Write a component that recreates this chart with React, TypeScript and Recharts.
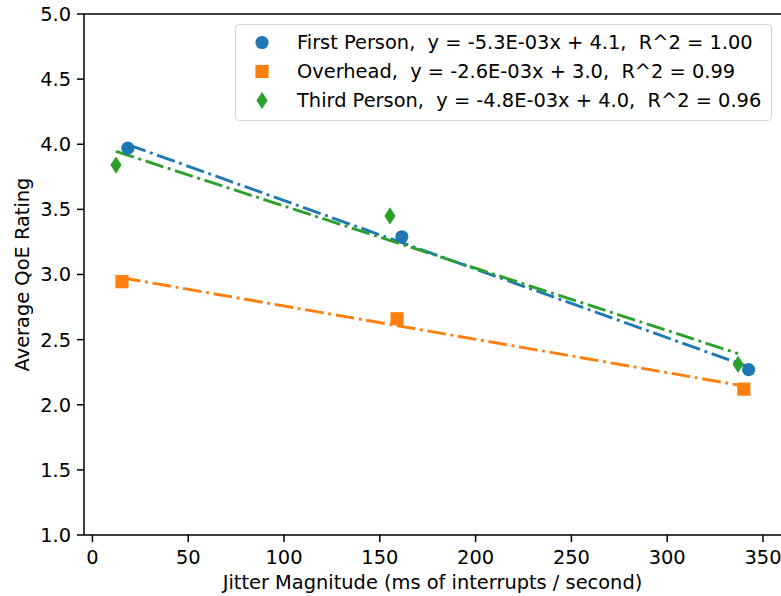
import React from 'react';
import { ComposedChart, Scatter, XAxis, YAxis, ReferenceLine, Legend } from 'recharts';

// Measured points
const firstX = [18.5, 161.5, 342.5];
const firstY = [3.97, 3.29, 2.27];
const overheadX = [15.4, 159.0, 340.0];
const overheadY = [2.945, 2.66, 2.12];
const thirdX = [12.3, 155.3, 337.0];
const thirdY = [3.84, 3.45, 2.31];

const firstFitX = [18.5, 342.5];
const firstFitY = [3.997, 2.291];
const overheadFitX = [15.4, 340.0];
const overheadFitY = [2.975, 2.144];
const thirdFitX = [12.3, 337.0];
const thirdFitY = [3.945, 2.393];

const xTicks = [0, 50, 100, 150, 200, 250, 300, 350];
const yTicks = [1.0, 1.5, 2.0, 2.5, 3.0, 3.5, 4.0, 4.5, 5.0];

const legendLabels = [
  'First Person,  y = -5.3E-03x + 4.1,  R^2 = 1.00',
  'Overhead,  y = -2.6E-03x + 3.0,  R^2 = 0.99',
  'Third Person,  y = -4.8E-03x + 4.0,  R^2 = 0.96',
];

const BLUE = '#1f77b4';
const ORANGE = '#ff7f0e';
const GREEN = '#2ca02c';
const FONT = '"DejaVu Sans", sans-serif';
const FS = 19.4;

const zip = (xs: number[], ys: number[]) => xs.map((x, i) => ({ x, y: ys[i] }));

const firstData = zip(firstX, firstY);
const overheadData = zip(overheadX, overheadY);
const thirdData = zip(thirdX, thirdY);
const firstFit = zip(firstFitX, firstFitY);
const overheadFit = zip(overheadFitX, overheadFitY);
const thirdFit = zip(thirdFitX, thirdFitY);

const DASH = '18.7 4.7 2.9 4.7';
const LW = 2.9;

const Circle = (p: any) => <circle cx={p.cx} cy={p.cy} r={6.6} fill={BLUE} />;
const Square = (p: any) => <rect x={p.cx - 6.6} y={p.cy - 6.6} width={13.2} height={13.2} fill={ORANGE} />;
const Diamond = (p: any) => (
  <polygon
    points={`${p.cx},${p.cy - 8.6} ${p.cx + 5.6},${p.cy} ${p.cx},${p.cy + 8.6} ${p.cx - 5.6},${p.cy}`}
    fill={GREEN}
  />
);
const NoShape = () => <g />;

const LegendMarker = ({ kind }: { kind: number }) => (
  <svg width={20} height={29} style={{ display: 'block' }}>
    {kind === 0 && <circle cx={10} cy={14.5} r={6.6} fill={BLUE} />}
    {kind === 1 && <rect x={3.4} y={7.9} width={13.2} height={13.2} fill={ORANGE} />}
    {kind === 2 && <polygon points="10,5.9 15.6,14.5 10,23.1 4.4,14.5" fill={GREEN} />}
  </svg>
);

const LegendBox = () => (
  <div
    style={{
      width: 535,
      height: 92,
      border: '1px solid #d4d4d4',
      borderRadius: 4,
      background: 'rgba(255,255,255,0.8)',
      boxSizing: 'content-box',
      paddingTop: 2.5,
      fontFamily: FONT,
      fontSize: FS,
      color: '#000',
    }}
  >
    {legendLabels.map((t, i) => (
      <div key={i} style={{ display: 'flex', alignItems: 'center', height: 29 }}>
        <div style={{ marginLeft: 16 }}>
          <LegendMarker kind={i} />
        </div>
        <span style={{ marginLeft: 25, whiteSpace: 'pre', lineHeight: '29px' }}>{t}</span>
      </div>
    ))}
  </div>
);

export default function App() {
  return (
    <div style={{ position: 'absolute', left: 0, top: 0, width: 781, height: 596, background: '#fff' }}>
      <ComposedChart width={781} height={596} margin={{ top: 14, right: 0, left: 0, bottom: 0 }}>
        <XAxis
          type="number"
          dataKey="x"
          domain={[-4.4, 359.4]}
          ticks={xTicks}
          allowDataOverflow
          height={61}
          stroke="#000"
          strokeWidth={1.5}
          tickSize={7}
          tickMargin={8}
          tickLine={{ stroke: '#000', strokeWidth: 1.5 }}
          tick={{ fill: '#000', fontSize: FS, fontFamily: FONT }}
          label={{
            value: 'Jitter Magnitude (ms of interrupts / second)',
            position: 'insideBottom',
            offset: 7,
            style: { fill: '#000', fontSize: FS, fontFamily: FONT },
          }}
        />
        <YAxis
          type="number"
          dataKey="y"
          domain={[1, 5]}
          ticks={yTicks}
          allowDataOverflow
          width={84}
          stroke="#000"
          strokeWidth={1.5}
          tickSize={7}
          tickMargin={6}
          tickLine={{ stroke: '#000', strokeWidth: 1.5 }}
          tickFormatter={(v: number) => v.toFixed(1)}
          tick={{ fill: '#000', fontSize: FS, fontFamily: FONT }}
          label={{
            value: 'Average QoE Rating',
            angle: -90,
            position: 'insideLeft',
            offset: 22,
            style: { fill: '#000', fontSize: FS, fontFamily: FONT, textAnchor: 'middle' },
          }}
        />
        <ReferenceLine y={5} stroke="#000" strokeWidth={1.5} />
        <Scatter
          data={firstFit}
          shape={NoShape}
          line={{ stroke: BLUE, strokeWidth: LW, strokeDasharray: DASH }}
          isAnimationActive={false}
        />
        <Scatter
          data={overheadFit}
          shape={NoShape}
          line={{ stroke: ORANGE, strokeWidth: LW, strokeDasharray: DASH }}
          isAnimationActive={false}
        />
        <Scatter
          data={thirdFit}
          shape={NoShape}
          line={{ stroke: GREEN, strokeWidth: LW, strokeDasharray: DASH }}
          isAnimationActive={false}
        />
        <Scatter data={firstData} shape={Circle} fill={BLUE} isAnimationActive={false} />
        <Scatter data={overheadData} shape={Square} fill={ORANGE} isAnimationActive={false} />
        <Scatter data={thirdData} shape={Diamond} fill={GREEN} isAnimationActive={false} />
        <Legend
          layout="vertical"
          align="center"
          verticalAlign="middle"
          content={() => <LegendBox />}
          wrapperStyle={{ position: 'absolute', left: 235, top: 24, width: 537, height: 96 }}
        />
      </ComposedChart>
    </div>
  );
}
